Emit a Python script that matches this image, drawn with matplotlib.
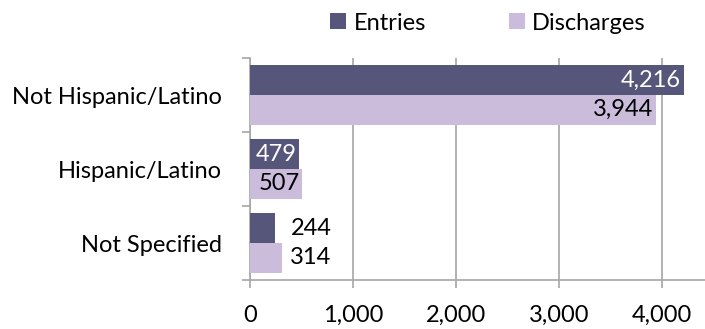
import numpy as np
import matplotlib.pyplot as plt
from matplotlib.ticker import FuncFormatter

plt.rcParams['font.family'] = ['Lato', 'DejaVu Sans']

categories = ["Not Hispanic/Latino", "Hispanic/Latino", "Not Specified"]
entries = [4216, 479, 244]
discharges = [3944, 507, 314]

c_entries = '#56557a'
c_disch = '#ccbcdc'
grey = '#a6a6a6'
fs = 17

fig = plt.figure(figsize=(7.05, 3.29), dpi=100)
ax = fig.add_axes([250/705, 49/329, 455/705, 222/329])

y = np.arange(len(categories))
h = 0.4
b1 = ax.barh(y - h/2, entries, height=h, color=c_entries, label='Entries', zorder=3)
b2 = ax.barh(y + h/2, discharges, height=h, color=c_disch, label='Discharges', zorder=3)

ax.set_xlim(0, 4420)
ax.set_ylim(2.5, -0.5)

# value labels: inside the bar end when it fits, otherwise just past it
def put_labels(bars, vals, inside_color):
    for bar, v in zip(bars, vals):
        yc = bar.get_y() + bar.get_height()/2
        txt = f"{v:,}"
        if v >= 450:
            ax.annotate(txt, (v, yc), xytext=(-2, 0), textcoords='offset points',
                        ha='right', va='center', fontsize=fs, color=inside_color, zorder=4)
        else:
            ax.annotate(txt, (820, yc), xytext=(-2, 0), textcoords='offset points',
                        ha='right', va='center', fontsize=fs, color='black', zorder=4)

put_labels(b1, entries, 'white')
put_labels(b2, discharges, 'black')

ax.set_yticks(y)
ax.set_yticklabels(categories, fontsize=fs)
ax.tick_params(axis='y', which='major', length=0, pad=20)
ax.set_yticks([-0.5, 0.5, 1.5, 2.5], minor=True)
ax.tick_params(axis='y', which='minor', length=6, color=grey, width=1.2)

ax.set_xticks([0, 1000, 2000, 3000, 4000])
ax.xaxis.set_major_formatter(FuncFormatter(lambda v, p: f"{int(v):,}"))
ax.tick_params(axis='x', length=6, color=grey, width=1.2, labelsize=fs, pad=12)
ax.grid(axis='x', color=grey, linewidth=1.2, zorder=0)

for s in ['top', 'right']:
    ax.spines[s].set_visible(False)
for s in ['left', 'bottom']:
    ax.spines[s].set_color(grey)
    ax.spines[s].set_linewidth(1.2)

fig.legend(handles=[b1, b2], loc='center', bbox_to_anchor=(0.692, 0.930), ncol=2,
           frameon=False, fontsize=fs, handlelength=0.68, handleheight=0.68,
           handletextpad=0.3, columnspacing=3.5, borderpad=0)

fig.savefig('out.png', dpi=100)
